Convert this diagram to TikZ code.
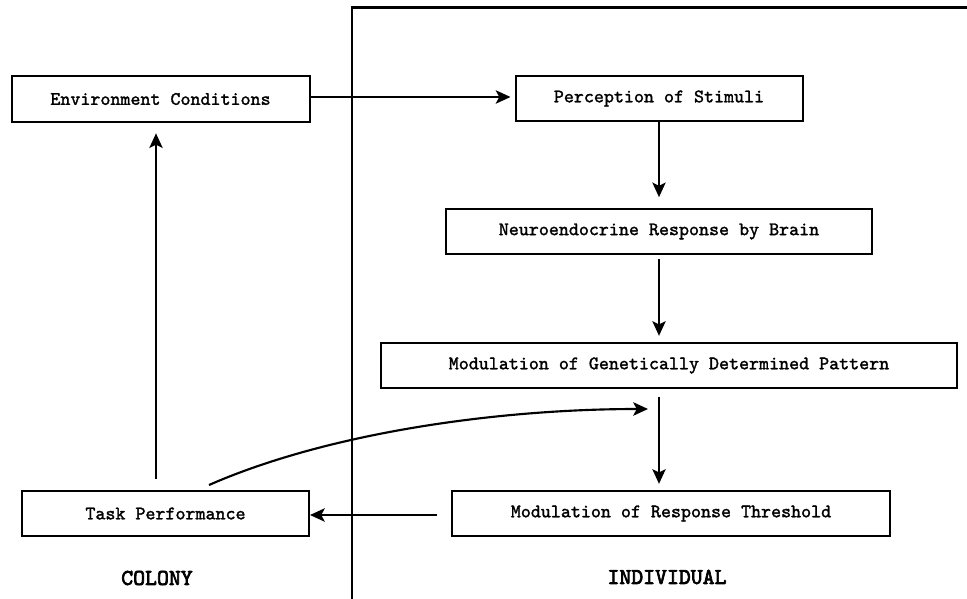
\documentclass[tikz,border=0pt]{standalone}
\usepackage{fontspec}
\setmonofont{lmmono10-regular.otf}[FakeBold=1.6]
\newfontfamily\labelfont{lmmono10-regular.otf}[FakeBold=3]
\usetikzlibrary{arrows.meta,calc}

\begin{document}
\begin{tikzpicture}[x=0.75pt,y=-0.75pt,
  stagebox/.style={draw,line width=1.5pt,fill=white,inner sep=0pt,
    minimum height=34pt,font=\ttfamily\fontsize{14.3}{16}\selectfont},
  arr/.style={line width=1.4pt,-{Stealth[length=11pt,width=10pt,inset=2.5pt]}},
  sidelabel/.style={font=\labelfont\fontsize{17}{19}\selectfont,inner sep=0pt}]

\useasboundingbox (0,0) rectangle (967,599);

% boundary between the colony and the individual
\draw[line width=2pt] (351,7.5) -- (967,7.5);
\draw[line width=1.5pt] (352,7.5) -- (352,599);

% boxes
\node[stagebox,minimum width=298*0.75pt] (env)    at (160.5,99)  {Environment Conditions};
\node[stagebox,minimum width=287*0.75pt] (percep) at (659,98.5) {Perception of Stimuli};
\node[stagebox,minimum width=426*0.75pt] (neuro)  at (659,231.5) {Neuroendocrine Response by Brain};
\node[stagebox,minimum width=576*0.75pt] (modgen) at (669,365.5) {Modulation of Genetically Determined Pattern};
\node[stagebox,minimum width=438*0.75pt] (resp)   at (671,513.5) {Modulation of Response Threshold};
\node[stagebox,minimum width=287*0.75pt] (task)   at (165.5,513.5) {Task Performance};

% side labels
\node[sidelabel] (colony) at (157,578) {COLONY};
\node[sidelabel] (indiv)  at (667,577) {INDIVIDUAL};

% connectors
\draw[arr,shorten >=3pt] ([yshift=2*0.75pt]env.east) -- ([yshift=2*0.75pt]env.east -| percep.west);
\draw[arr,shorten >=8pt] (percep.south) -- (percep.south |- neuro.north);
\draw[arr,shorten <=3pt,shorten >=4.5pt] (neuro.south) -- (neuro.south |- modgen.north);
\coordinate (mid) at (659,389);
\draw[arr,shorten <=6pt,shorten >=4.5pt] (mid) -- (mid |- resp.north);
\draw[arr,shorten <=4.5pt] ([xshift=-6pt,yshift=-1.5*0.75pt]resp.west) -- ([yshift=-1.5*0.75pt]task.east);
\draw[arr,shorten <=8pt,shorten >=8pt] ([xshift=-9.5*0.75pt]task.north) -- ([xshift=-9.5*0.75pt]task.north |- env.south);
\coordinate (loopend) at (648,409);
\draw[arr,line width=1.6pt] (209,485) .. controls (330,432) and (500,409) .. (loopend);
\end{tikzpicture}
\end{document}
